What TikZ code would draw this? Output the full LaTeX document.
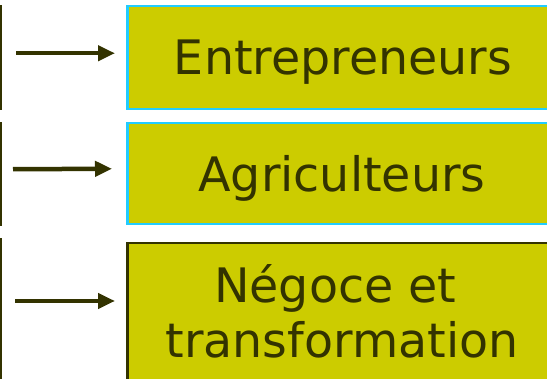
\documentclass[tikz,border=0pt]{standalone}
\usepackage{fontspec}
\setmainfont{DejaVu Sans}
\usetikzlibrary{arrows.meta}
\definecolor{boxfill}{HTML}{CCCC00}
\definecolor{dark}{HTML}{333300}
\definecolor{cyanb}{HTML}{22CCFF}
\tikzset{
  leftbox/.style={draw=dark, fill=boxfill, line width=2.5pt, rectangle, inner sep=0pt, anchor=north east},
  rightbox/.style={fill=boxfill, line width=2.5pt, rectangle, inner sep=0pt, anchor=north west},
  lbl/.style={text=dark, font=\fontsize{47.5}{55}\selectfont, inner sep=0pt, anchor=base, align=center},
  arr/.style={draw=dark, line width=4.5pt, -{Triangle[length=17pt,width=15pt]}}
}
\begin{document}
\begin{tikzpicture}[x=1pt,y=-1pt]
\useasboundingbox (0,0) rectangle (547,379);
\clip (0,0) rectangle (547,379);
% left boxes
\node[leftbox, minimum width=100pt, minimum height=103pt] (l1) at (1.5,5) {};
\node[leftbox, minimum width=100pt, minimum height=102pt] (l2) at (1.5,122) {};
\node[leftbox, minimum width=100pt, minimum height=160pt] (l3) at (1.5,238) {};
% right boxes
\node[rightbox, draw=cyanb, minimum width=440pt, minimum height=103pt] (r1) at (126,5) {};
\node[rightbox, draw=cyanb, minimum width=440pt, minimum height=101pt] (r2) at (126,122) {};
\node[rightbox, draw=dark, minimum width=440pt, minimum height=160pt] (r3) at (126,242) {};
% labels
\node[lbl] (t1) at (343,75) {Entrepreneurs};
\node[lbl] (t2) at (342,192) {Agriculteurs};
\node[lbl, anchor=base west] (t3a) at (214,303) {Négoce et};
\node[lbl] (t3b) at (342,358) {transformation};
% arrows
\draw[arr] ([xshift=14.5pt,yshift=4.5pt]l1.east) -- ([xshift=-11pt,yshift=4.5pt]r1.west);
\draw[arr] ([xshift=11.5pt,yshift=5pt]l2.east) -- ([xshift=-14pt,yshift=5pt]r2.west);
\draw[arr] ([xshift=13.5pt]l3.east |- 0,301) -- ([xshift=-11pt]r3.west |- 0,301);
\end{tikzpicture}
\end{document}
